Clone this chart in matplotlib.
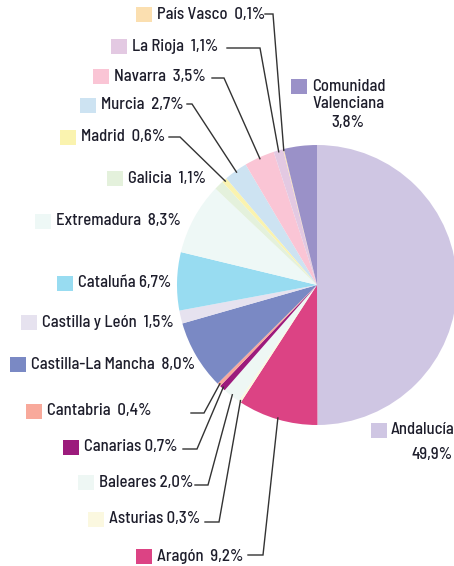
import numpy as np
import matplotlib.pyplot as plt
from matplotlib.patches import Rectangle

plt.rcParams['font.family'] = ['Barlow Semi Condensed', 'Roboto Condensed', 'DejaVu Sans']

# slices, clockwise from the top
regions = ["Andalucía", "Aragón", "Asturias", "Baleares", "Canarias", "Cantabria",
           "Castilla-La Mancha", "Castilla y León", "Cataluña", "Extremadura",
           "Galicia", "Madrid", "Murcia", "Navarra", "La Rioja", "País Vasco",
           "Comunidad Valenciana"]
shares = [49.9, 9.2, 0.3, 2.0, 0.7, 0.4, 8.0, 1.5, 6.7, 8.3,
          1.1, 0.6, 2.7, 3.5, 1.1, 0.1, 3.8]
colors = ["#cfc6e3", "#dc4384", "#fbf8e0", "#eef7f4", "#9c1b7c", "#f8a99b",
          "#7a89c4", "#e6e2ef", "#98dcf1", "#eef8f6", "#e4f1dc", "#faf3af",
          "#cde3f2", "#fac5d5", "#e3c9e2", "#fbdfb0", "#9a91c8"]
label_text = ["Andalucía", "Aragón  9,2%", "Asturias 0,3%", "Baleares 2,0%",
              "Canarias 0,7%", "Cantabria  0,4%", "Castilla-La Mancha  8,0%",
              "Castilla y León  1,5%", "Cataluña 6,7%", "Extremadura  8,3%",
              "Galicia  1,1%", "Madrid  0,6%", "Murcia  2,7%", "Navarra  3,5%",
              "La Rioja  1,1%", "País Vasco  0,1%", "Comunidad\nValenciana"]

# layout (pixels from top-left): legend square left x, centre y
sq_x = [371, 136, 88, 78, 63, 26, 10, 21, 57, 35, 107, 60, 80, 93, 111, 136, 291]
sq_y = [430, 556, 519, 482, 447, 411, 364, 322, 283, 221, 178, 137, 105, 76, 46, 14, 86]

# leader lines: region index -> (line start x, elbow x, y)
leaders = {15: (265, 273, 14), 14: (227, 260, 48), 13: (212, 224, 78),
           12: (187, 192, 104), 11: (169, 180, 137), 5: (191, 204, 413),
           4: (183, 197, 449), 3: (195, 208, 485), 2: (205, 219, 522),
           1: (248, 263, 555)}

W, H = 454, 566
Y = lambda py: H - py
cx, cy, R = 317, Y(285), 140
txt_col = "#1d1d2b"
fs = 12
fw = 'medium'

fig = plt.figure(figsize=(W / 100, H / 100), dpi=100)
ax = fig.add_axes([0, 0, 1, 1])
wedges, _ = ax.pie(shares, colors=colors, startangle=90, counterclock=False,
                   center=(cx, cy), radius=R, frame=True)
ax.set_xlim(0, W)
ax.set_ylim(0, H)
ax.set_aspect('equal')
ax.axis('off')

for i, name in enumerate(regions):
    ax.add_patch(Rectangle((sq_x[i], Y(sq_y[i]) - 7.5), 16, 15,
                           facecolor=colors[i], edgecolor='none', clip_on=False))
    if i == 0:
        ax.text(sq_x[i] + 20, Y(sq_y[i]), label_text[i], fontsize=fs,
                fontweight=fw, color=txt_col, va='center', ha='left')
        ax.text(W - 1, Y(455), "49,9%", fontsize=fs, fontweight=fw,
                color=txt_col, va='center', ha='right')
    elif i == 16:
        ax.text(sq_x[i] + 21, Y(95), label_text[i], fontsize=fs, fontweight=fw,
                color=txt_col, va='center', ha='left', linespacing=1.2)
        ax.text(348, Y(123), "3,8%", fontsize=fs, fontweight=fw,
                color=txt_col, va='center', ha='center')
    else:
        ax.text(sq_x[i] + 21, Y(sq_y[i]), label_text[i], fontsize=fs,
                fontweight=fw, color=txt_col, va='center', ha='left')

for i, (x0, x1, ly) in leaders.items():
    w = wedges[i]
    ang = np.deg2rad((w.theta1 + w.theta2) / 2)
    ex = cx + 0.99 * R * np.cos(ang)
    ey = cy + 0.99 * R * np.sin(ang)
    ax.plot([x0, x1, ex], [Y(ly), Y(ly), ey], color="#333333", lw=1.0,
            solid_joinstyle='miter')

fig.savefig("out.png", dpi=100)
